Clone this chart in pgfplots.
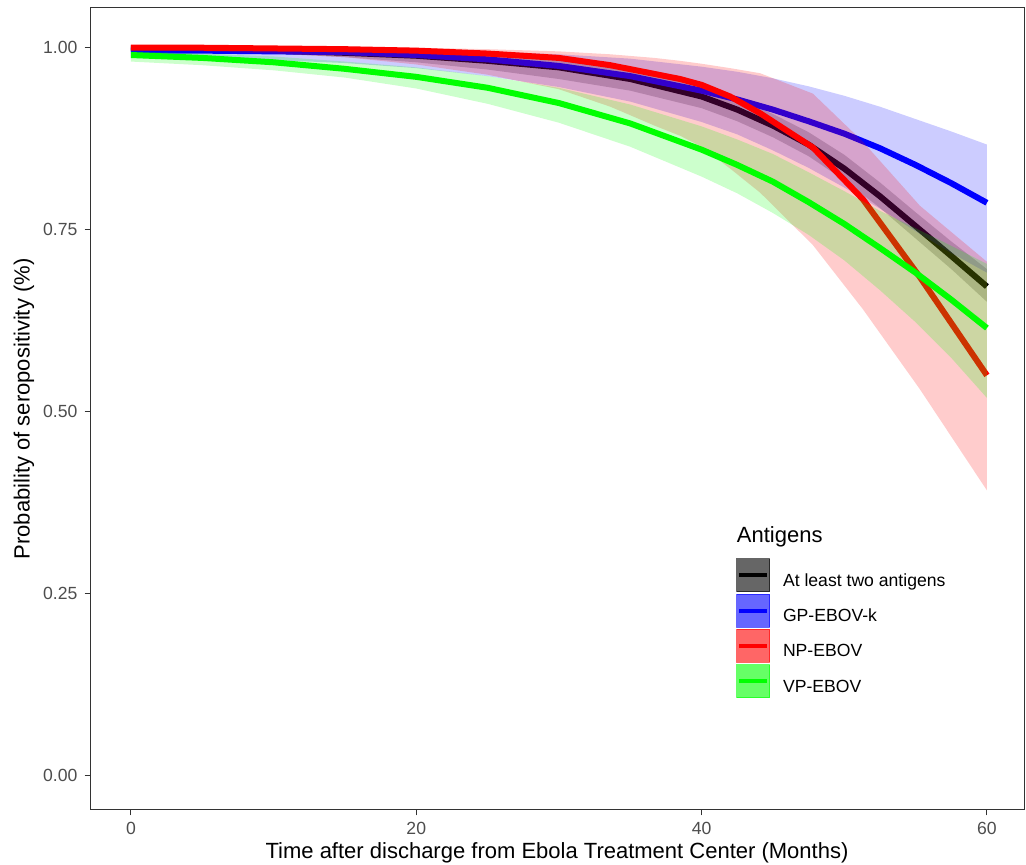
\documentclass[border=0pt]{standalone}
\usepackage{fontspec}
\setmainfont{Liberation Sans}
\usepackage{pgfplots}
\pgfplotsset{compat=1.18}
\usepgfplotslibrary{fillbetween}
\definecolor{tickgray}{HTML}{4D4D4D}
\definecolor{framegray}{HTML}{333333}

% columns: months, estimate, lower and upper band
\pgfplotstableread{
t y lo hi
0 0.998 0.996 0.999
5 0.997 0.994 0.998
10 0.995 0.991 0.997
15 0.992 0.986 0.995
20 0.988 0.979 0.993
25 0.981 0.969 0.989
30 0.972 0.956 0.982
35 0.956 0.940 0.968
40 0.932 0.916 0.945
42.5 0.914 0.898 0.929
45 0.892 0.876 0.908
47.5 0.866 0.850 0.883
50 0.833 0.817 0.852
52.5 0.795 0.779 0.814
55 0.754 0.737 0.773
57.5 0.713 0.695 0.733
60 0.671 0.650 0.695
}\twoag

\pgfplotstableread{
t y lo hi
0 0.995 0.985 0.999
5 0.995 0.984 0.999
10 0.994 0.982 0.998
15 0.993 0.978 0.997
20 0.989 0.971 0.996
25 0.983 0.960 0.994
30 0.974 0.945 0.990
35 0.960 0.925 0.984
40 0.940 0.897 0.973
42.5 0.928 0.880 0.966
45 0.914 0.858 0.957
47.5 0.898 0.834 0.946
50 0.881 0.807 0.933
52.5 0.861 0.778 0.918
55 0.838 0.747 0.901
57.5 0.813 0.717 0.884
60 0.786 0.690 0.866
}\gpk

\pgfplotstableread{
t y lo hi
0 0.999 0.995 1.000
5 0.999 0.994 1.000
10 0.998 0.991 1.000
15 0.997 0.986 0.9995
20 0.995 0.976 0.999
25 0.991 0.962 0.997
30 0.985 0.942 0.994
33.6 0.975 0.918 0.990
36.7 0.963 0.892 0.985
38.5 0.956 0.878 0.981
40 0.948 0.863 0.977
42 0.932 0.833 0.971
44.1 0.909 0.800 0.964
47.8 0.862 0.728 0.936
51.3 0.791 0.640 0.870
55.3 0.684 0.530 0.782
60 0.549 0.391 0.705
}\npe

\pgfplotstableread{
t y lo hi
0 0.989 0.980 0.994
5 0.985 0.975 0.991
10 0.979 0.968 0.987
15 0.970 0.958 0.980
20 0.959 0.943 0.972
25 0.944 0.922 0.960
30 0.923 0.896 0.944
35 0.895 0.863 0.921
40 0.859 0.822 0.891
42.5 0.838 0.799 0.873
45 0.815 0.772 0.853
47.5 0.787 0.742 0.828
50 0.757 0.707 0.802
52.5 0.724 0.666 0.775
55 0.690 0.622 0.751
57.5 0.653 0.573 0.727
60 0.614 0.518 0.702
}\vpe

\begin{document}
\begin{tikzpicture}
\begin{axis}[
  at={(0,0)}, anchor=south west,
  width=467pt, height=401pt, scale only axis,
  xmin=-2.87, xmax=62.6, ymin=-0.048, ymax=1.0536,
  axis line style={framegray, line width=0.5pt},
  xtick={0,20,40,60}, ytick={0,0.25,0.5,0.75,1},
  xtick pos=bottom, ytick pos=left,
  tick align=outside, major tick length=2.75pt,
  tick style={framegray, line width=0.5pt},
  /pgf/number format/assume math mode=true,
  ticklabel style={font=\fontsize{8.8}{10}\selectfont, text=tickgray},
  yticklabel={\pgfmathprintnumber[fixed, fixed zerofill, precision=2]{\tick}},
  xlabel={Time after discharge from Ebola Treatment Center (Months)},
  ylabel={Probability of seropositivity (\%)},
  xlabel style={at={(axis description cs:0.5,-0.0599)}, anchor=base, font=\fontsize{11}{13}\selectfont},
  ylabel style={at={(axis description cs:-0.0707,0.5)}, anchor=center, font=\fontsize{11}{13}\selectfont},
  legend style={at={(axis cs:42.4,0.298)}, anchor=north west, draw=none, fill=none,
    inner sep=0pt, row sep=0.75pt, font=\fontsize{8.8}{10}\selectfont,
    nodes={inner sep=0pt},
    /tikz/every odd column/.append style={column sep=6.5pt}},
  legend cell align=left,
  line join=round,
  curve/.style={line width=3pt, forget plot, on layer=pre main},
]
% at least two antigens
\addplot[draw=none, name path=kU, forget plot] table[x=t, y=hi]{\twoag};
\addplot[draw=none, name path=kL, forget plot] table[x=t, y=lo]{\twoag};
\addplot[fill=black, fill opacity=0.2, draw=none, forget plot] fill between[of=kU and kL];
\addplot[black, curve] table[x=t, y=y]{\twoag};
% GP-EBOV-k
\addplot[draw=none, name path=bU, forget plot] table[x=t, y=hi]{\gpk};
\addplot[draw=none, name path=bL, forget plot] table[x=t, y=lo]{\gpk};
\addplot[fill=blue, fill opacity=0.2, draw=none, forget plot] fill between[of=bU and bL];
\addplot[blue, curve] table[x=t, y=y]{\gpk};
% NP-EBOV
\addplot[draw=none, name path=rU, forget plot] table[x=t, y=hi]{\npe};
\addplot[draw=none, name path=rL, forget plot] table[x=t, y=lo]{\npe};
\addplot[fill=red, fill opacity=0.2, draw=none, forget plot] fill between[of=rU and rL];
\addplot[red, curve] table[x=t, y=y]{\npe};
% VP-EBOV
\addplot[draw=none, name path=gU, forget plot] table[x=t, y=hi]{\vpe};
\addplot[draw=none, name path=gL, forget plot] table[x=t, y=lo]{\vpe};
\addplot[fill=green, fill opacity=0.2, draw=none, forget plot] fill between[of=gU and gL];
\addplot[green, curve] table[x=t, y=y]{\vpe};

\addlegendimage{legend image code/.code={\fill[black, opacity=0.6] (0pt,-5.1pt) rectangle (16.5pt,11.4pt); \draw[black, line width=2pt] (1.3pt,3.15pt) -- (15.2pt,3.15pt);}}
\addlegendentry{At least two antigens}
\addlegendimage{legend image code/.code={\fill[blue, opacity=0.6] (0pt,-5.1pt) rectangle (16.5pt,11.4pt); \draw[blue, line width=2pt] (1.3pt,3.15pt) -- (15.2pt,3.15pt);}}
\addlegendentry{GP-EBOV-k}
\addlegendimage{legend image code/.code={\fill[red, opacity=0.6] (0pt,-5.1pt) rectangle (16.5pt,11.4pt); \draw[red, line width=2pt] (1.3pt,3.15pt) -- (15.2pt,3.15pt);}}
\addlegendentry{NP-EBOV}
\addlegendimage{legend image code/.code={\fill[green, opacity=0.6] (0pt,-5.1pt) rectangle (16.5pt,11.4pt); \draw[green, line width=2pt] (1.3pt,3.15pt) -- (15.2pt,3.15pt);}}
\addlegendentry{VP-EBOV}

\node[anchor=base west, inner sep=0pt, font=\fontsize{11}{13}\selectfont] at (axis cs:42.45,0.320) {Antigens};
\end{axis}
\pgfresetboundingbox
\path[use as bounding box] (-45pt,-27.5pt) rectangle (468pt,405pt);
\end{tikzpicture}
\end{document}
